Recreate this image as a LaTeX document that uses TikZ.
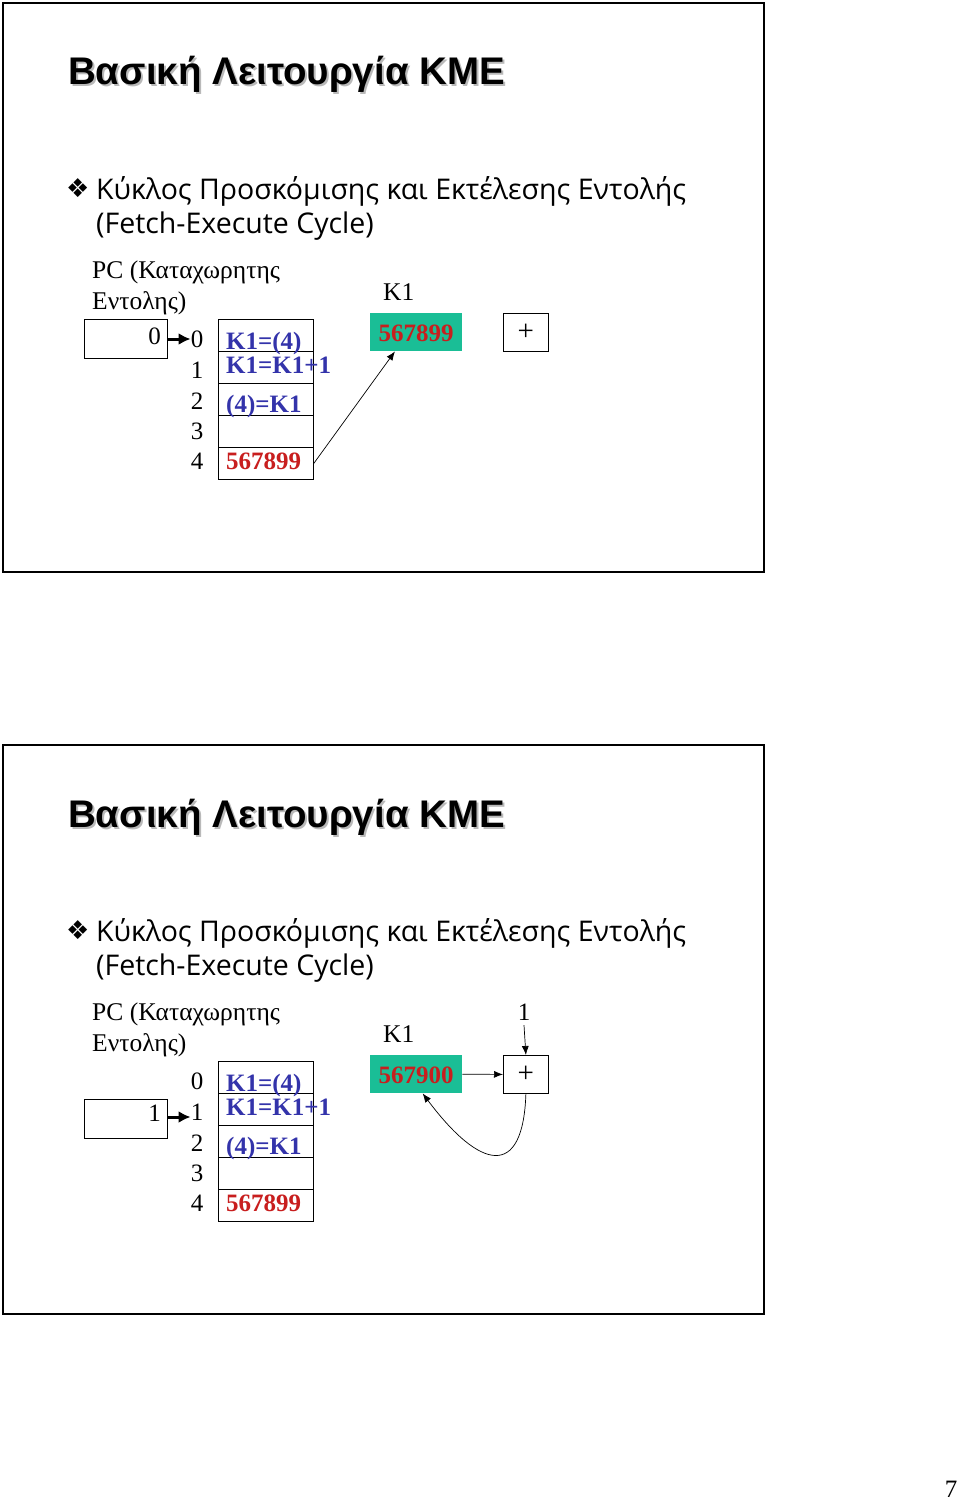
\documentclass[tikz,border=0pt]{standalone}
\usepackage{fontspec}
\setmainfont{Liberation Serif}
\newfontfamily\titlefont{Liberation Sans}
\newfontfamily\bulletfont{Open Sans}
\newfontfamily\symfont{DejaVu Sans}
\usetikzlibrary{arrows.meta,calc}
\definecolor{kgreen}{RGB}{26,190,150}
\definecolor{kred}{RGB}{200,30,30}
\definecolor{kblue}{RGB}{51,51,170}
\begin{document}
\begin{tikzpicture}[x=1pt,y=-1pt,
  frame/.style={draw,line width=2.5pt},
  title/.style={anchor=base west,inner sep=0,font=\titlefont\bfseries\fontsize{38.5}{46}\selectfont},
  bul/.style={anchor=base west,inner sep=0,font=\bulletfont\fontsize{28.5}{34}\selectfont},
  txt/.style={anchor=base west,inner sep=0,font=\fontsize{25.5}{30}\selectfont},
  idx/.style={anchor=base,inner sep=0,font=\fontsize{25}{30}\selectfont},
  code/.style={anchor=base west,inner sep=0,text=kblue,font=\bfseries\fontsize{25}{30}\selectfont},
  val/.style={anchor=base west,inner sep=0,text=kred,font=\bfseries\fontsize{25}{30}\selectfont},
  cell/.style={draw,line width=0.8pt,minimum width=95pt,minimum height=32pt,inner sep=0,anchor=north west},
  pcbox/.style={draw,line width=0.8pt,minimum width=83pt,minimum height=39pt,inner sep=0,anchor=north west},
  kbox/.style={fill=kgreen,minimum width=92pt,minimum height=38pt,inner sep=0,anchor=north west},
  plusbox/.style={draw,line width=0.8pt,minimum width=45pt,minimum height=38pt,inner sep=0,anchor=north west,font=\fontsize{29}{32}\selectfont},
  arr/.style={line width=0.7pt,-{Latex[length=9pt,width=7pt]}},
  pcarr/.style={line width=3pt,-{Latex[length=12pt,width=12pt]}}]
\useasboundingbox (0,0) rectangle (960,1501);

% ===== top slide =====
\draw[frame] (3,3) rectangle (764,572);
\node[title,text=gray!55] (t1s) at (70,87) {Βασική Λειτουργία ΚΜΕ};
\node[title] (t1) at (68,85) {Βασική Λειτουργία ΚΜΕ};
\node[anchor=base west,inner sep=0,font=\symfont\fontsize{26}{30}\selectfont] (b1) at (66,197) {❖};
\node[bul] (l1a) at (96,199) {Κύκλος Προσκόμισης και Εκτέλεσης Εντολής};
\node[bul] (l1b) at (96,233) {(Fetch-Execute Cycle)};

\node[txt] (pc1a) at (92,278) {PC (Καταχωρητης};
\node[txt] (pc1b) at (92,309) {Εντολης)};
\node[pcbox] (pc1) at (84,319) {};
\node[idx,anchor=base east] (pv1) at (161,344) {0};
\node[txt] (k1l) at (383,300) {K1};

\node[cell] (ma0) at (218,319) {};
\node[cell] (ma1) at (218,351) {};
\node[cell] (ma2) at (218,383) {};
\node[cell] (ma3) at (218,415) {};
\node[cell] (ma4) at (218,447) {};
\node[idx] (ia0) at (197,347) {0};
\node[idx] (ia1) at (197,378) {1};
\node[idx] (ia2) at (197,409) {2};
\node[idx] (ia3) at (197,439) {3};
\node[idx] (ia4) at (197,469) {4};
\node[code] (ca0) at (226,349) {K1=(4)};
\node[code] (ca1) at (226,373) {K1=K1+1};
\node[code] (ca2) at (226,412) {(4)=K1};
\node[val] (ca4) at (226,469) {567899};

\node[kbox] (k1) at (370,313) {};
\node[val,anchor=base] (k1v) at (416,341) {567899};
\node[plusbox] (p1) at (503,313) {+};

\draw[pcarr] (pc1.east |- 0,339) -- (ia0.west |- 0,339);
\draw[arr] (ma4.east) -- ($(k1.south west)!0.27!(k1.south east)$);

% ===== bottom slide =====
\draw[frame] (3,745) rectangle (764,1314);
\node[title,text=gray!55] (t2s) at (70,829) {Βασική Λειτουργία ΚΜΕ};
\node[title] (t2) at (68,827) {Βασική Λειτουργία ΚΜΕ};
\node[anchor=base west,inner sep=0,font=\symfont\fontsize{26}{30}\selectfont] (b2) at (66,939) {❖};
\node[bul] (l2a) at (96,941) {Κύκλος Προσκόμισης και Εκτέλεσης Εντολής};
\node[bul] (l2b) at (96,975) {(Fetch-Execute Cycle)};

\node[txt] (pc2a) at (92,1020) {PC (Καταχωρητης};
\node[txt] (pc2b) at (92,1051) {Εντολης)};
\node[pcbox] (pc2) at (84,1099) {};
\node[idx,anchor=base east] (pv2) at (161,1121) {1};
\node[txt] (k2l) at (383,1042) {K1};

\node[cell] (mb0) at (218,1061) {};
\node[cell] (mb1) at (218,1093) {};
\node[cell] (mb2) at (218,1125) {};
\node[cell] (mb3) at (218,1157) {};
\node[cell] (mb4) at (218,1189) {};
\node[idx] (ib0) at (197,1089) {0};
\node[idx] (ib1) at (197,1120) {1};
\node[idx] (ib2) at (197,1151) {2};
\node[idx] (ib3) at (197,1181) {3};
\node[idx] (ib4) at (197,1211) {4};
\node[code] (cb0) at (226,1091) {K1=(4)};
\node[code] (cb1) at (226,1115) {K1=K1+1};
\node[code] (cb2) at (226,1154) {(4)=K1};
\node[val] (cb4) at (226,1211) {567899};

\node[kbox] (k2) at (370,1055) {};
\node[val,anchor=base] (k2v) at (416,1083) {567900};
\node[plusbox] (p2) at (503,1055) {+};
\node[idx] (one) at (524,1020) {1};

\draw[pcarr] (pc2.east |- 0,1117) -- (ib1.west |- 0,1117);
\draw[arr] ([yshift=-5pt]one.south) -- (p2.north);
\draw[arr] (k2.east) -- (p2.west);
\draw[arr] (p2.south) .. controls (523,1180) and (480,1170) .. ($(k2.south west)!0.57!(k2.south east)$);

% page number
\node[idx] (pg) at (951,1497) {7};
\end{tikzpicture}
\end{document}
